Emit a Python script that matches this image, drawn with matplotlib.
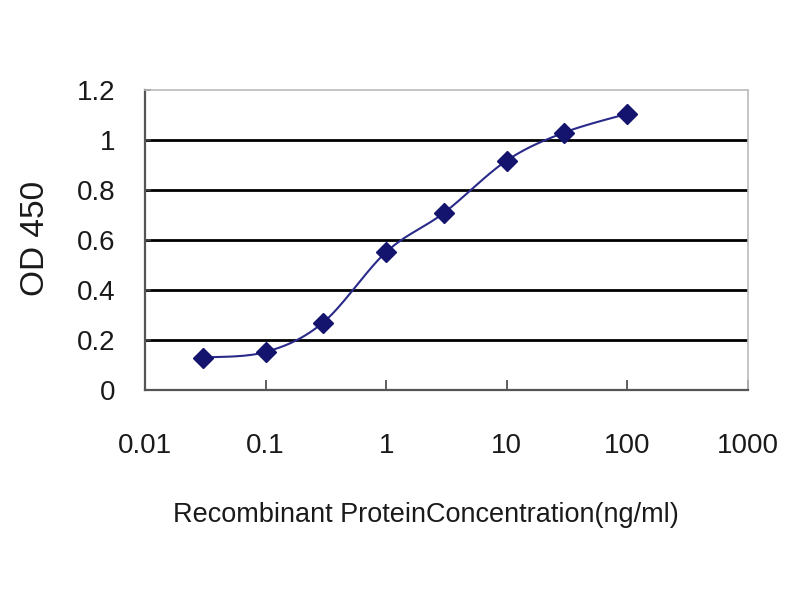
import numpy as np
import matplotlib
matplotlib.use("Agg")
import matplotlib.pyplot as plt
from matplotlib.ticker import FixedLocator, FixedFormatter, NullLocator

concentration = [0.03, 0.1, 0.3, 1, 3, 10, 30, 100]
od450 = [0.13, 0.152, 0.27, 0.552, 0.708, 0.918, 1.03, 1.105]
x_ticks = [0.01, 0.1, 1, 10, 100, 1000]
x_tick_labels = ["0.01", "0.1", "1", "10", "100", "1000"]
y_ticks = [0, 0.2, 0.4, 0.6, 0.8, 1.0, 1.2]
y_tick_labels = ["0", "0.2", "0.4", "0.6", "0.8", "1", "1.2"]

plt.rcParams['font.family'] = ['Liberation Sans', 'DejaVu Sans']

fig = plt.figure(figsize=(8, 6), dpi=100)
ax = fig.add_axes([145/800, 1 - 390/600, 603/800, 300/600])

ax.set_xscale('log')
ax.set_xlim(0.01, 1000)
ax.set_ylim(0, 1.2)

# smooth (Excel-like) curve through the points, computed in screen-like space
W, H = 603.0, 300.0
u = (np.log10(concentration) + 2) / 5 * W
v = np.array(od450) / 1.2 * H
pts = np.column_stack([u, v])
curve = [pts[0]]
n = len(pts)
for i in range(n - 1):
    p0 = pts[i - 1] if i > 0 else pts[i]
    p1 = pts[i]
    p2 = pts[i + 1]
    p3 = pts[i + 2] if i + 2 < n else pts[i + 1]
    c1 = p1 + (p2 - p0) / 6
    c2 = p2 - (p3 - p1) / 6
    t = np.linspace(0, 1, 30)[1:, None]
    seg = ((1 - t) ** 3) * p1 + 3 * ((1 - t) ** 2) * t * c1 + 3 * (1 - t) * t ** 2 * c2 + t ** 3 * p2
    curve.extend(seg)
curve = np.array(curve)
cx = 10 ** (curve[:, 0] / W * 5 - 2)
cy = curve[:, 1] / H * 1.2

for gy in y_ticks[1:-1]:
    ax.axhline(gy, color='black', lw=2.0, zorder=1)

ax.plot(cx, cy, color='#2a2a8a', lw=1.5, zorder=3)
ax.plot(concentration, od450, linestyle='none', marker='D', markersize=10,
        color='#14146e', zorder=4)

ax.xaxis.set_major_locator(FixedLocator(x_ticks))
ax.xaxis.set_major_formatter(FixedFormatter(x_tick_labels))
ax.xaxis.set_minor_locator(NullLocator())
ax.yaxis.set_major_locator(FixedLocator(y_ticks))
ax.yaxis.set_major_formatter(FixedFormatter(y_tick_labels))

ax.tick_params(axis='x', direction='in', length=7, width=1.2, color='#444444',
               labelsize=20, pad=31, labelcolor='#1a1a1a')
ax.tick_params(axis='y', direction='in', length=4, width=1.2, color='#444444',
               labelsize=20, pad=21, labelcolor='#1a1a1a')

for side in ['left', 'bottom']:
    ax.spines[side].set_color('#555555')
    ax.spines[side].set_linewidth(1.6)
for side in ['top', 'right']:
    ax.spines[side].set_color('#bbbbbb')
    ax.spines[side].set_linewidth(1.2)

ax.set_xlabel('Recombinant ProteinConcentration(ng/ml)', fontsize=19.5, color='#1a1a1a', va='center')
ax.xaxis.set_label_coords((426 - 145) / 603, (390 - 515) / 300)
ax.set_ylabel('OD 450', fontsize=24, color='#1a1a1a', va='center')
ax.yaxis.set_label_coords((35 - 145) / 603, (390 - 238) / 300)

fig.savefig('out.png', dpi=100)
